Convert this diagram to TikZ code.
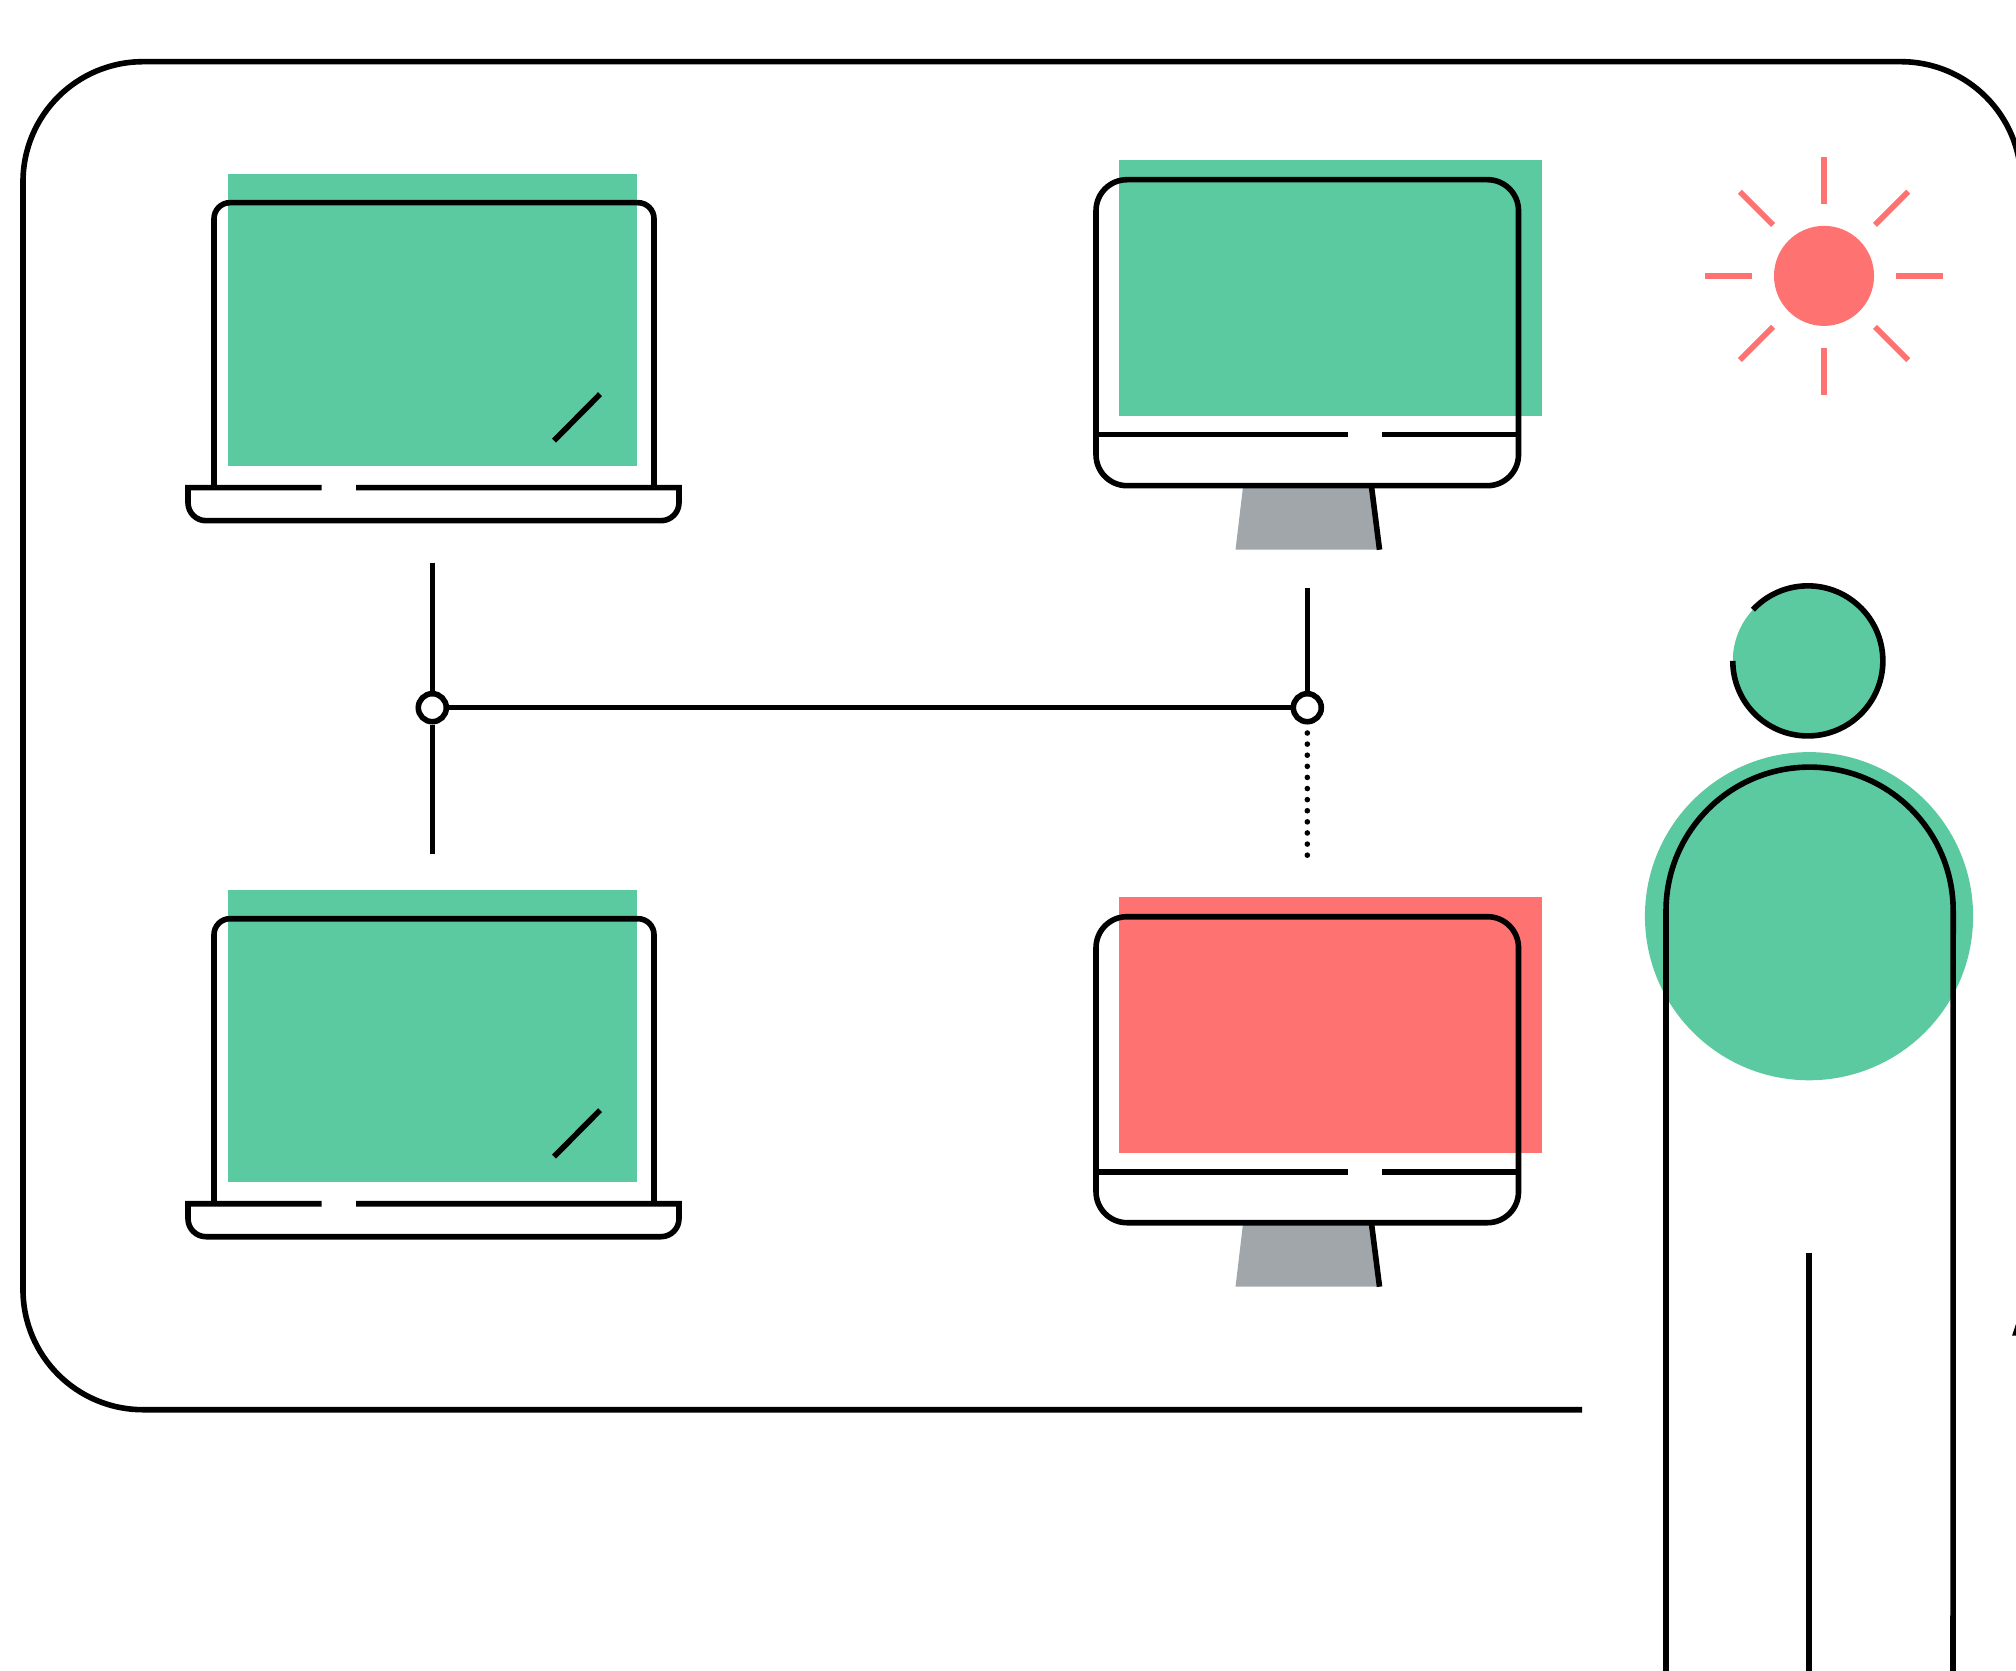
\documentclass[tikz,border=0pt]{standalone}
\usepackage{xcolor}
\usepackage{tikz}
\usetikzlibrary{calc}
\definecolor{mintgreen}{HTML}{5CCAA0}
\definecolor{coralred}{HTML}{FF7272}
\definecolor{standgray}{HTML}{A0A6A9}

\begin{document}
\begin{tikzpicture}[
    x=0.01cm, y=-0.01cm,
    inkline/.style={draw=black, line width=0.056cm},
    junctionnode/.style={circle, draw=black, fill=white, line width=0.056cm, minimum size=0.28cm, inner sep=0mm},
    lapscreen/.style={rectangle, fill=mintgreen, minimum width=4.09cm, minimum height=2.92cm, inner sep=0mm},
    monscreen/.style={rectangle, fill=#1, minimum width=4.23cm, minimum height=2.56cm, inner sep=0mm},
    sunray/.style={draw=coralred, line width=0.057cm}
]
\path[use as bounding box, clip] (0,-0.7) rectangle (2016,1670.3);

\draw[inkline, rounded corners=1.2cm] (1582,1409) -- (23,1409) -- (23,61) -- (2021,61) -- (2021,500);

\foreach \yshift/\name in {0/a, 716/b}{
    \begin{scope}[shift={(0,\yshift)}]
    \node[lapscreen](laptop\name) at (432.5,319){};
    \draw[inkline, rounded corners=0.16cm] (214,487) -- (214,202) -- (654,202) -- (654,487);
    \draw[inkline] (321.5,487) -- (188,487) [rounded corners=0.18cm] -- (188,520) -- (679,520) [sharp corners] -- (679,487) -- (356,487);
    \draw[inkline] (554,440) -- (600,393.5);
    \end{scope}
}

\foreach \yshift/\name/\col in {0/a/mintgreen, 737/b/coralred}{
    \begin{scope}[shift={(0,\yshift)}]
    \node[monscreen=\col](monitor\name) at (1330.3,287){};
    \fill[standgray] (1243,486) -- (1372,486) -- (1380,549) -- (1235.5,549) -- cycle;
    \draw[inkline] (1371.5,486) -- (1379.5,549);
    \draw[inkline, rounded corners=0.31cm] (1096,179) rectangle (1518.5,485);
    \draw[inkline] (1096,434) -- (1347.5,434);
    \draw[inkline] (1382,434) -- (1518.5,434);
    \end{scope}
}

\node[junctionnode](junctionl) at (432.3,707){};
\node[junctionnode](junctionr) at (1307.3,707){};
\coordinate (laptopatop) at (432.3,562);
\coordinate (laptopbtop) at (432.3,853);
\coordinate (monitoratop) at (1307.3,587);
\coordinate (monitorbtop) at (1307.3,856);
\draw[inkline] (laptopatop) -- (junctionl);
\draw[inkline] (junctionl) -- (laptopbtop);
\draw[inkline] (junctionl) -- (junctionr);
\draw[inkline] (monitoratop) -- (junctionr);
\draw[line width=0.056cm, line cap=round, dash pattern=on 0cm off 0.111cm, shorten <=0.085cm] (junctionr) -- (monitorbtop);

\node[circle, fill=coralred, minimum size=1cm, inner sep=0mm](sunnode) at (1824,275.2){};
\foreach \angle in {0,45,...,315}{
    \draw[sunray] ($(sunnode.center)+(\angle:0.72cm)$) -- ($(sunnode.center)+(\angle:1.19cm)$);
}

\node[circle, fill=mintgreen, minimum size=3.28cm, inner sep=0mm](torsonode) at (1809,915.5){};
\node[circle, fill=mintgreen, minimum size=1.5cm, inner sep=0mm](headnode) at (1807.8,660.2){};
\draw[inkline] ($(headnode.center)+(137:0.75cm)$) arc[start angle=137, end angle=-180, radius=0.75cm];
\draw[inkline] (1666,1680) -- (1666,910) arc[start angle=180, end angle=0, radius=1.435cm] -- (1953,1680);
\draw[inkline] (1809,1252) -- (1809,1680);
\fill[black] (2012,1335) -- (2016,1323) -- (2017,1335) -- cycle;
\end{tikzpicture}
\end{document}
